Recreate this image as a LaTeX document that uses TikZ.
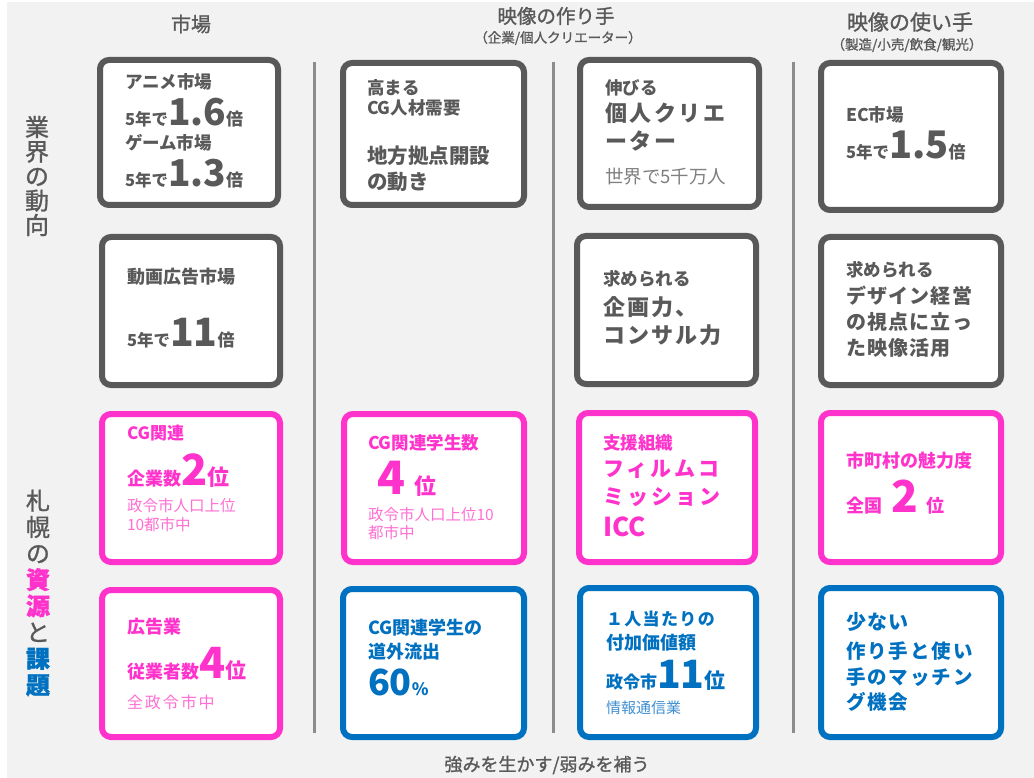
\documentclass[tikz,border=0pt]{standalone}
\usepackage{fontspec}
\setmainfont{Noto Sans CJK JP}
\newfontfamily\med[FakeBold=1.2]{Noto Sans CJK JP}
\newcommand\fz[1]{\fontsize{#1pt}{#1pt}\selectfont}
\newcommand\ls[1]{\addfontfeature{LetterSpace=#1}}
\definecolor{tg}{HTML}{595959}
\definecolor{lg}{HTML}{7F7F7F}
\definecolor{pk}{HTML}{FF33CC}
\definecolor{lpk}{HTML}{FF6FD3}
\definecolor{bl}{HTML}{0070C0}
\definecolor{lbl}{HTML}{3F8FD2}
\definecolor{ln}{HTML}{8C8C8C}
\definecolor{bgc}{HTML}{F2F2F2}
\begin{document}
\begin{tikzpicture}[x=1pt,y=-1pt,
  card/.style={line width=6pt, rounded corners=9pt, fill=white},
  gcard/.style={card, draw=tg},
  pcard/.style={card, draw=pk},
  bcard/.style={card, draw=bl},
  sep/.style={draw=ln, line width=3pt},
  tx/.style={anchor=west, inner sep=0pt, outer sep=0pt, text=tg, font=\bfseries},
  bx/.style={anchor=base west, inner sep=0pt, outer sep=0pt, text=tg, font=\bfseries},
  hd/.style={anchor=center, inner sep=0pt, text=tg},
]
\useasboundingbox (0,0) rectangle (1034,778);
\fill[white] (0,0) rectangle (1034,778);
\fill[bgc] (7,2) rectangle (1034,778);

% separators
\draw[sep] (314,62) -- (314,733);
\draw[sep] (553,62) -- (553,733);
\draw[sep] (793,62) -- (793,733);

% headers
\node[hd, font=\med\fz{20}] (h1) at (191,24) {市場};
\node[hd, font=\med\fz{19.5}] (h2) at (556,16) {映像の作り手};
\node[hd, font=\med\fz{13.5}] (h2s) at (558,38) {（企業/個人クリエーター）};
\node[hd, font=\med\fz{21}] (h3) at (910,22) {映像の使い手};
\node[hd, font=\med\fz{13.5}] (h3s) at (907,45) {（製造/小売/飲食/観光）};
\node[hd, font=\med\fz{18}] (foot) at (547,765) {強みを生かす/弱みを補う};

% row labels
\node[hd, align=center, font=\med\fontsize{24pt}{24.5pt}\selectfont] (r1) at (37,176)
  {業\\界\\の\\動\\向};
\node[hd, align=center, font=\med\fontsize{24pt}{26.3pt}\selectfont] (r2) at (38,593)
  {札\\幌\\の\\\textcolor{pk}{\bfseries 資}\\\textcolor{pk}{\bfseries 源}\\と\\\textcolor{bl}{\bfseries 課}\\\textcolor{bl}{\bfseries 題}};

% cards
\draw[gcard] (100,60) rectangle (278,205);
\draw[gcard] (343,63) rectangle (524,205);
\draw[gcard] (580,60) rectangle (759,207);
\draw[gcard] (821,63) rectangle (1001,210);
\draw[gcard] (102,237) rectangle (280,385);
\draw[gcard] (577,236) rectangle (756,384);
\draw[gcard] (821,237) rectangle (1001,385);
\draw[pcard] (102,414) rectangle (280,562);
\draw[pcard] (344,414) rectangle (524,562);
\draw[pcard] (579,413) rectangle (755,562);
\draw[pcard] (821,413) rectangle (1001,562);
\draw[pcard] (102,590) rectangle (280,737);
\draw[bcard] (343,589) rectangle (524,737);
\draw[bcard] (580,588) rectangle (756,737);
\draw[bcard] (821,588) rectangle (1001,737);

% Box A
\node[tx, font=\fz{17.5}\bfseries] (a1) at (125,82) {アニメ市場};
\node[bx] (a2) at (125,126) {{\fz{16.5}5年で}{\fz{37}1.6}{\fz{17}倍}};
\node[tx, font=\fz{17.5}\bfseries] (a3) at (125,143) {ゲーム市場};
\node[bx] (a4) at (125,187) {{\fz{16.5}5年で}{\fz{37}1.3}{\fz{17}倍}};

% Box B
\node[tx, font=\fz{17.5}\bfseries] (b1) at (367,88) {高まる};
\node[tx, font=\fz{17.5}\bfseries] (b2) at (367,108) {CG人材需要};
\node[tx, font=\fz{20.5}\bfseries] (b3) at (367,156) {地方拠点開設};
\node[tx, font=\fz{20.5}\bfseries] (b4) at (367,182) {の動き};

% Box C
\node[tx, font=\fz{17.5}\bfseries] (c1) at (605,88) {伸びる};
\node[tx, font=\fz{22}\bfseries\ls{12}] (c2) at (605,113) {個人クリエ};
\node[tx, font=\fz{22}\bfseries\ls{12}] (c3) at (605,141) {ーター};
\node[tx, font=\fz{18.5}, text=lg] (c4) at (605,177) {世界で5千万人};

% Box D
\node[tx, font=\fz{17.5}\bfseries] (d1) at (846,115) {EC市場};
\node[bx] (d2) at (846,159) {{\fz{16.5}5年で}{\fz{38}1.5}{\fz{17}倍}};

% Box E
\node[tx, font=\fz{18}\bfseries] (e1) at (127,277) {動画広告市場};
\node[bx] (e2) at (127,346) {{\fz{16.5}5年で}{\fz{39}11}{\fz{17}倍}};

% Box F
\node[tx, font=\fz{17.5}\bfseries] (f1) at (603,279) {求められる};
\node[tx, font=\fz{22}\bfseries\ls{10}] (f2) at (603,307) {企画力、};
\node[tx, font=\fz{22}\bfseries\ls{10}] (f3) at (603,335) {コンサル力};

% Box G
\node[tx, font=\fz{17.5}\bfseries] (g1) at (846,270) {求められる};
\node[tx, font=\fz{20}\bfseries\ls{6}] (g2) at (846,296) {デザイン経営};
\node[tx, font=\fz{20}\bfseries\ls{6}] (g3) at (846,322) {の視点に立っ};
\node[tx, font=\fz{20}\bfseries\ls{6}] (g4) at (846,348) {た映像活用};

% Box H
\node[tx, text=pk, font=\fz{17}\bfseries] (p1) at (127,433) {CG関連};
\node[bx, text=pk] (p2) at (127,485) {{\fz{18}企業数}{\fz{43}2}{\fz{22}位}};
\node[tx, text=lpk, font=\fz{15.5}] (p3) at (127,506) {政令市人口上位};
\node[tx, text=lpk, font=\fz{15.5}] (p4) at (127,525) {10都市中};

% Box I
\node[tx, text=pk, font=\fz{17.5}\bfseries] (q1) at (368,443) {CG関連学生数};
\node[bx, text=pk] (q2) at (377,494) {{\fz{46}4}\hspace{9pt}{\fz{22}位}};
\node[tx, text=lpk, font=\fz{15.5}] (q3) at (368,515) {政令市人口上位10};
\node[tx, text=lpk, font=\fz{15.5}] (q4) at (368,533) {都市中};

% Box J
\node[tx, text=pk, font=\fz{17.5}\bfseries] (j1) at (603,443) {支援組織};
\node[tx, text=pk, font=\fz{21}\bfseries\ls{15}] (j2) at (603,469) {フィルムコ};
\node[tx, text=pk, font=\fz{21}\bfseries\ls{15}] (j3) at (603,497) {ミッション};
\node[tx, text=pk, font=\fz{26}\bfseries] (j4) at (603,527) {ICC};

% Box K
\node[tx, text=pk, font=\fz{18}\bfseries] (k1) at (846,461) {市町村の魅力度};
\node[bx, text=pk] (k2) at (846,512) {{\fz{18}全国}\hspace{9pt}{\fz{44}2}\hspace{9pt}{\fz{18}位}};

% Box L
\node[tx, text=pk, font=\fz{18}\bfseries] (l1) at (127,627) {広告業};
\node[bx, text=pk] (l2) at (127,678) {{\fz{18}従業者数}{\fz{43}4}{\fz{21}位}};
\node[tx, text=lpk, font=\fz{16}\ls{12}] (l3) at (127,702) {全政令市中};

% Box M
\node[tx, text=bl, font=\fz{18}\bfseries] (m1) at (368,628) {CG関連学生の};
\node[tx, text=bl, font=\fz{18}\bfseries] (m2) at (368,652) {道外流出};
\node[bx, text=bl] (m3) at (368,695) {{\fz{36}60}{\fz{17}\%}};

% Box N
\node[tx, text=bl, font=\fz{17}\bfseries\ls{8}] (n1) at (606,619) {１人当たりの};
\node[tx, text=bl, font=\fz{18}\bfseries] (n2) at (606,643) {付加価値額};
\node[bx, text=bl] (n3) at (606,688) {{\fz{17}政令市}{\fz{39}11}{\fz{21}位}};
\node[tx, text=lbl, font=\fz{15}] (n4) at (606,708) {情報通信業};

% Box O
\node[tx, text=bl, font=\fz{20}\bfseries\ls{6}] (o1) at (846,622) {少ない};
\node[tx, text=bl, font=\fz{19.5}\bfseries\ls{10}] (o2) at (846,651) {作り手と使い};
\node[tx, text=bl, font=\fz{19.5}\bfseries\ls{10}] (o3) at (846,677) {手のマッチン};
\node[tx, text=bl, font=\fz{19.5}\bfseries\ls{10}] (o4) at (846,702) {グ機会};
\end{tikzpicture}
\end{document}
